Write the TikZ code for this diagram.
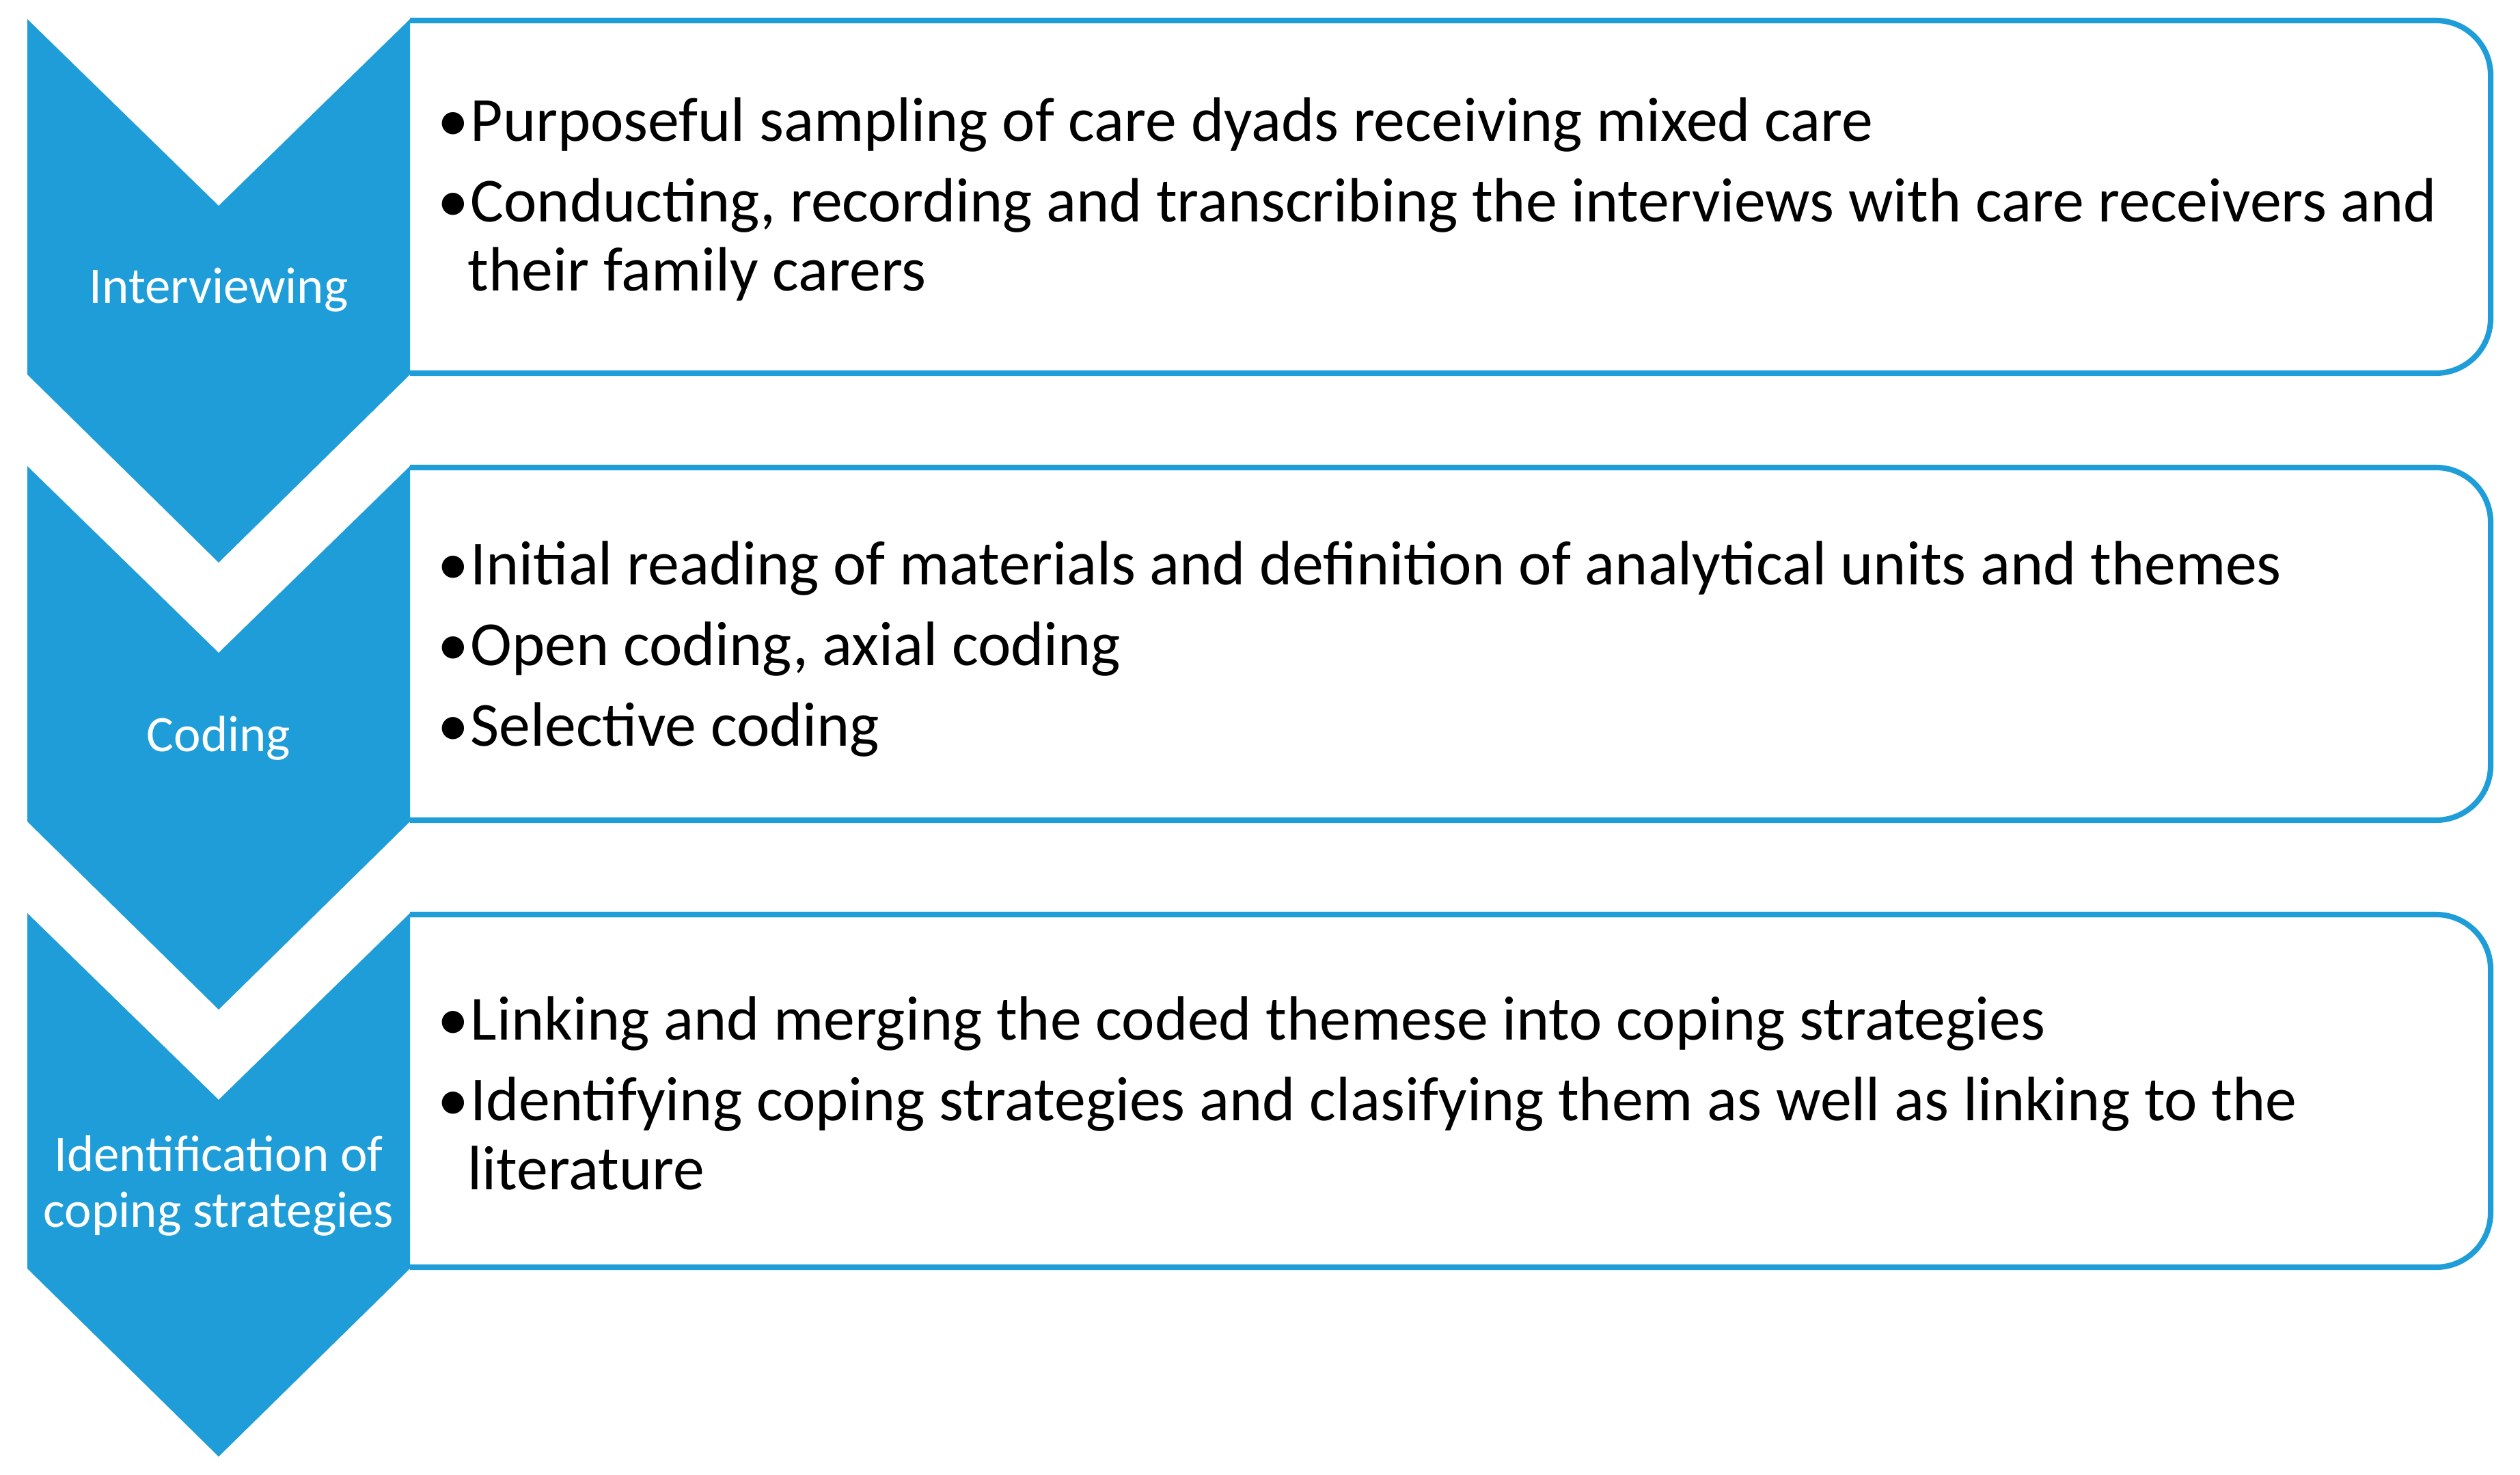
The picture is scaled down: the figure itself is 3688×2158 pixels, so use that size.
\documentclass[tikz,border=0pt]{standalone}
\usepackage{fontspec}
\setmainfont{Carlito}
\definecolor{stepblue}{RGB}{30,157,216}
\newlength\bulletwd
\setlength\bulletwd{4.8mm}
\newcommand\stepitem{\par\leftskip=4.4mm\noindent\hskip-4.4mm\hbox to\bulletwd{\textbullet\hss}}

\begin{document}
\begin{tikzpicture}[x=0.1mm,y=-0.1mm,
  stepframe/.style={draw=stepblue,line width=2.3pt,rounded corners=8mm},
  steplabel/.style={text=white,font=\fontsize{21.3}{23.4}\selectfont,align=center,inner sep=0pt},
  stepitems/.style={anchor=west,inner sep=0pt,text width=300mm,align=flush left,
    font=\fontsize{26.1}{28.7}\selectfont\setlength\parskip{4.9pt}}]
  \useasboundingbox (0,0) rectangle (3688,2158);
  \foreach \k in {0,1,2} {
    \draw[stepframe] (600,30+654*\k) -- (3645,30+654*\k) -- (3645,546+654*\k) -- (600,546+654*\k);
    \fill[stepblue] (40,28+654*\k) -- (320,301+654*\k) -- (600,28+654*\k) -- (600,548+654*\k)
      -- (320,823+654*\k) -- (40,548+654*\k) -- cycle;
  }
  % chevron labels
  \node[steplabel] (interviewing) at (320,424) {Interviewing};
  \node[steplabel] (coding) at (320,1080) {Coding};
  \node[steplabel] (identification) at (320,1735) {Identification of\\coping strategies};
  % box texts
  \node[stepitems] (interviewingtext) at (640,264) {\stepitem Purposeful sampling of care dyads receiving mixed care
    \stepitem Conducting, recording and transcribing the interviews with care receivers and\hfil\break their family carers\par};
  \node[stepitems] (codingtext) at (640,922) {\stepitem Initial reading of materials and definition of analytical units and themes
    \stepitem Open coding, axial coding
    \stepitem Selective coding\par};
  \node[stepitems] (identificationtext) at (640,1572) {\stepitem Linking and merging the coded themese into coping strategies
    \stepitem Identifying coping strategies and clasifying them as well as linking to the\hfil\break literature\par};
\end{tikzpicture}
\end{document}
